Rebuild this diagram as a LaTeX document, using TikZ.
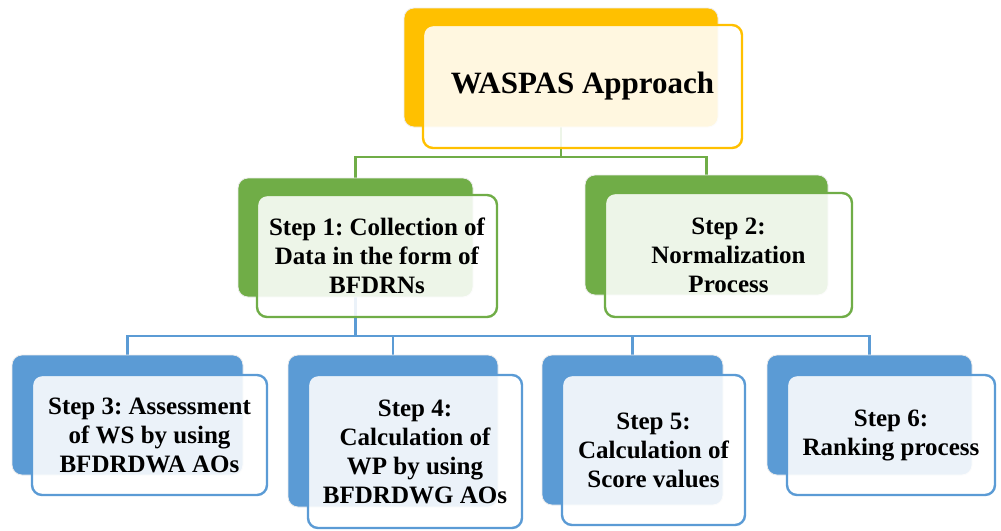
\documentclass[tikz,border=0pt]{standalone}
\usepackage{fontspec}
\setmainfont{Liberation Serif}
\usetikzlibrary{backgrounds}
\definecolor{waspasorange}{HTML}{FFC000}
\definecolor{waspasgreen}{HTML}{70AD47}
\definecolor{waspasblue}{HTML}{5B9BD5}
\frenchspacing
\begin{document}
\begin{tikzpicture}[x=0.5pt, y=-0.5pt,
    every node/.style={inner sep=0pt, outer sep=0pt},
    backbox/.style={rounded corners=5pt, draw=gray!15, line width=0.4pt},
    frontbox/.style={rounded corners=5pt, line width=1.2pt, fill=white, fill opacity=0.88, text opacity=1,
      align=center, font=\fontsize{12.5}{14.5}\selectfont\bfseries},
    greenline/.style={draw=waspasgreen, line width=1.2pt},
    blueline/.style={draw=waspasblue, line width=1.2pt}]
    \useasboundingbox (0,0) rectangle (1001,530);
    % top level
    \node[backbox, fill=waspasorange, minimum width=157pt, minimum height=59.5pt] (back0) at (561,67.5) {};
    \node[frontbox, draw=waspasorange, minimum width=159.5pt, minimum height=61.5pt,
      font=\fontsize{15.5}{17}\selectfont\bfseries] (top) at (582.5,86.5) {WASPAS Approach};
    % second level
    \node[backbox, fill=waspasgreen, minimum width=117.5pt, minimum height=59.5pt] (back1) at (355.5,237.5) {};
    \node[frontbox, draw=waspasgreen, minimum width=120pt, minimum height=61pt] (step1) at (377,256)
      {Step 1: Collection of\\Data in the form of\\BFDRNs};
    \node[backbox, fill=waspasgreen, minimum width=121.5pt, minimum height=60pt] (back2) at (706.5,235) {};
    \node[frontbox, draw=waspasgreen, minimum width=123.5pt, minimum height=62pt] (step2) at (728.5,255)
      {Step 2:\\Normalization\\Process};
    % third level
    \node[backbox, fill=waspasblue, minimum width=115.5pt, minimum height=60pt] (back3) at (127.5,415) {};
    \node[frontbox, draw=waspasblue, minimum width=117.5pt, minimum height=60pt] (step3) at (149.5,435)
      {Step 3: Assessment\\of WS by using\\BFDRDWA AOs};
    \node[backbox, fill=waspasblue, minimum width=105pt, minimum height=76pt] (back4) at (393,431) {};
    \node[frontbox, draw=waspasblue, minimum width=107pt, minimum height=76.5pt] (step4) at (415,451.5)
      {Step 4:\\Calculation of\\WP by using\\BFDRDWG AOs};
    \node[backbox, fill=waspasblue, minimum width=90.5pt, minimum height=75pt] (back5) at (632.5,430) {};
    \node[frontbox, draw=waspasblue, minimum width=91.5pt, minimum height=75pt] (step5) at (653.5,450)
      {Step 5:\\Calculation of\\Score values};
    \node[backbox, fill=waspasblue, minimum width=102.5pt, minimum height=60pt] (back6) at (869.5,415) {};
    \node[frontbox, draw=waspasblue, minimum width=104pt, minimum height=60pt] (step6) at (891,435)
      {Step 6:\\Ranking process};
    % connectors
    \begin{scope}[on background layer]
      \draw[greenline] (back0.south) -- ++(0,30) coordinate (g0);
      \draw[greenline] (g0) -| (back1.north);
      \draw[greenline] (g0) -| (back2.north);
      \draw[blueline] (back1.south) -- ++(0,39) coordinate (b0);
      \draw[blueline] (b0) -| (back3.north);
      \draw[blueline] (b0) -| (back4.north);
      \draw[blueline] (b0) -| (back5.north);
      \draw[blueline] (b0) -| (back6.north);
    \end{scope}
\end{tikzpicture}
\end{document}
